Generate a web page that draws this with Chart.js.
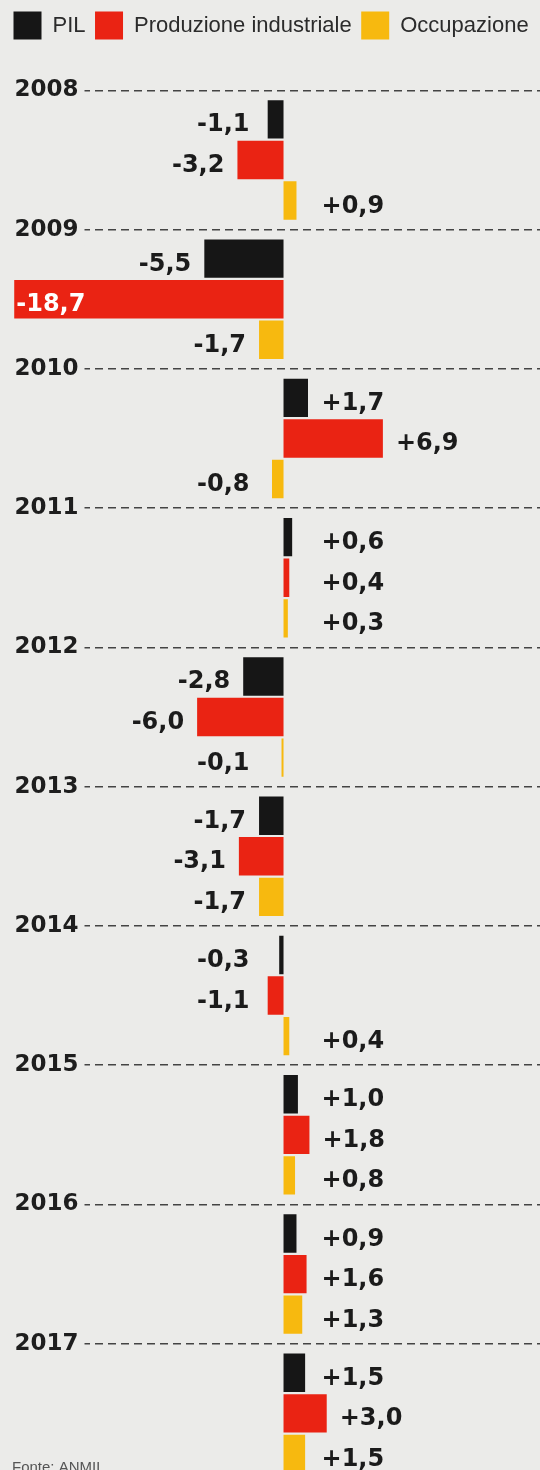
<!DOCTYPE html>
<html>
<head>
<meta charset="utf-8">
<script src="https://cdn.jsdelivr.net/npm/chart.js@4"></script>
<style>
  html, body { margin: 0; padding: 0; background: #ebebe9; }
  #wrap { width: 540px; height: 1470px; overflow: hidden; position: relative; }
  canvas { display: block; }
</style>
</head>
<body>
<div id="wrap">
  <canvas id="myChart" width="540" height="1483"></canvas>
</div>
<script>
const years = ['2008', '2009', '2010', '2011', '2012', '2013', '2014', '2015', '2016', '2017'];
const pil = [-1.1, -5.5, 1.7, 0.6, -2.8, -1.7, -0.3, 1.0, 0.9, 1.5];
const produzione = [-3.2, -18.7, 6.9, 0.4, -6.0, -3.1, -1.1, 1.8, 1.6, 3.0];
const occupazione = [0.9, -1.7, -0.8, 0.3, -0.1, -1.7, 0.4, 0.8, 1.3, 1.5];

const BG = '#ebebe9';

function fmt(v) {
    return (v > 0 ? '+' : '') + v.toFixed(1).replace('.', ',');
}

// value labels next to each bar, inside (white) when there is no room
const valueLabels = {
    id: 'valueLabels',
    afterDatasetsDraw(chart) {
        const ctx = chart.ctx;
        const area = chart.chartArea;
        const zero = chart.scales.x.getPixelForValue(0);
        ctx.save();
        ctx.font = 'bold 24px "DejaVu Sans"';
        ctx.textBaseline = 'alphabetic';
        chart.data.datasets.forEach(function (ds, di) {
            chart.getDatasetMeta(di).data.forEach(function (bar, i) {
                const v = ds.data[i];
                const txt = fmt(v);
                const w = ctx.measureText(txt).width;
                const y = bar.y + 12;
                if (v >= 0) {
                    ctx.fillStyle = '#1b1b1b';
                    ctx.textAlign = 'left';
                    ctx.fillText(txt, Math.max(bar.x + 13, zero + 38), y);
                } else {
                    const right = Math.min(bar.x - 13, zero - 34);
                    if (right - w < area.left) {
                        ctx.fillStyle = '#ffffff';
                        ctx.textAlign = 'left';
                        ctx.fillText(txt, bar.x + 2, y);
                    } else {
                        ctx.fillStyle = '#1b1b1b';
                        ctx.textAlign = 'right';
                        ctx.fillText(txt, right, y);
                    }
                }
            });
        });
        ctx.font = '15px "Liberation Sans"';
        ctx.fillStyle = '#555';
        ctx.textAlign = 'left';
        ctx.textBaseline = 'top';
        ctx.fillText('Fonte: ANMIL', 12, 1460);
        ctx.restore();
    }
};

const data = {
    labels: years,
    datasets: [
        { label: 'PIL', data: pil, backgroundColor: '#161616' },
        { label: 'Produzione industriale', data: produzione, backgroundColor: '#ea2313' },
        { label: 'Occupazione', data: occupazione, backgroundColor: '#f7b90f' }
    ]
};

var ctx = document.getElementById('myChart').getContext('2d');
var myChart = new Chart(ctx, {
    type: 'bar',
    data: data,
    plugins: [valueLabels],
    options: {
        indexAxis: 'y',
        responsive: false,
        animation: false,
        devicePixelRatio: 1,
        layout: { padding: { left: 4, top: 2, right: 0, bottom: 0 } },
        datasets: {
            bar: {
                categoryPercentage: 0.874,
                barPercentage: 0.946,
                borderWidth: 0,
                minBarLength: 2
            }
        },
        scales: {
            x: {
                position: 'top',
                min: -19.41,
                max: 17.81,
                grid: { display: false },
                border: { display: false },
                ticks: { display: false },
                afterFit: function (scale) { scale.height = 40.8; }
            },
            y: {
                grid: {
                    offset: true,
                    color: '#444444',
                    lineWidth: 1.5,
                    drawTicks: false
                },
                border: { display: false, dash: [8, 5] },
                ticks: {
                    mirror: true,
                    padding: 10.5,
                    labelOffset: -69.635,
                    color: '#1e1e1e',
                    font: { family: 'DejaVu Sans', weight: 'bold', size: 23 },
                    showLabelBackdrop: true,
                    backdropColor: BG,
                    backdropPadding: { left: 10.5, right: 6, top: 2, bottom: 2 }
                },
                afterFit: function (scale) {
                    scale.width = 0;
                    scale.paddingTop = 0;
                    scale.paddingBottom = 0;
                }
            }
        },
        plugins: {
            legend: {
                position: 'top',
                align: 'start',
                labels: {
                    boxWidth: 28,
                    boxHeight: 28,
                    padding: 9.5,
                    color: '#2b2b2b',
                    font: { family: 'Liberation Sans', size: 22 }
                }
            },
            tooltip: { enabled: false }
        }
    }
});
</script>
</body>
</html>
